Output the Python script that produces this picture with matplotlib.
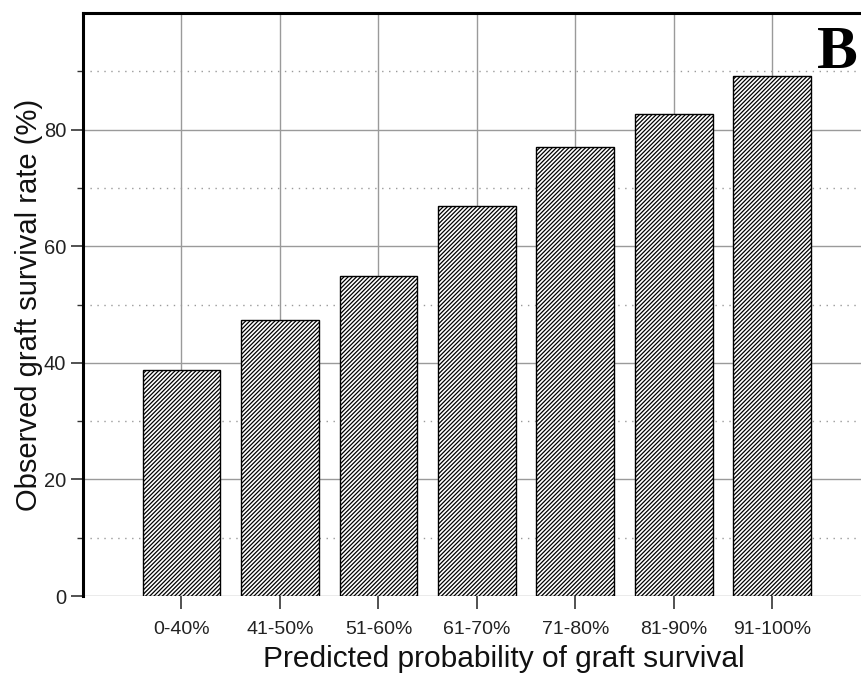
import matplotlib
matplotlib.use("Agg")
import matplotlib.pyplot as plt
from matplotlib.ticker import FixedLocator

categories = ["0-40%", "41-50%", "51-60%", "61-70%", "71-80%", "81-90%", "91-100%"]
observed_rate = [38.8, 47.3, 54.9, 66.9, 77.0, 82.7, 89.2]
major_yticks = [0, 20, 40, 60, 80]
minor_yticks = [10, 30, 50, 70, 90]

plt.rcParams["font.family"] = ["Liberation Sans", "DejaVu Sans"]
plt.rcParams["hatch.linewidth"] = 0.9
plt.rcParams["hatch.color"] = "#1a1a1a"

fig = plt.figure(figsize=(8.61, 6.75), dpi=100)
# plot region runs past the right edge of the canvas
ax = fig.add_axes([83 / 861, 79 / 675, (925 - 83) / 861, (596 - 13) / 675])

positions = list(range(1, len(categories) + 1))

# grid first so bars sit on top
ax.set_axisbelow(True)
ax.yaxis.set_major_locator(FixedLocator(major_yticks))
ax.yaxis.set_minor_locator(FixedLocator(minor_yticks))
ax.grid(which="major", axis="both", color="#9a9a9a", linewidth=1.0, linestyle="-")
ax.grid(which="minor", axis="y", color="#9a9a9a", linewidth=1.0, linestyle=(0, (1, 4)))

ax.bar(positions, observed_rate, width=0.79, color="white", edgecolor="black",
       linewidth=1.0, hatch="////////", zorder=3)

ax.set_xlim(0, 8.55)
ax.set_ylim(0, 100)
ax.set_xticks(positions)
ax.set_xticklabels(categories)

ax.tick_params(axis="x", which="major", length=9, width=1.2, color="#333333",
               labelsize=14, labelcolor="#222222", pad=9)
ax.tick_params(axis="y", which="major", length=9, width=1.2, color="#333333",
               labelsize=14.5, labelcolor="#222222", pad=3)
ax.tick_params(axis="y", which="minor", length=4, width=1.0, color="#333333")

for side in ("bottom", "right"):
    ax.spines[side].set_visible(False)
for side in ("left", "top"):
    ax.spines[side].set_linewidth(2.2)
    ax.spines[side].set_color("black")

ax.set_xlabel("Predicted probability of graft survival", fontsize=21.5, color="#111111", labelpad=5)
ax.set_ylabel("Observed graft survival rate (%)", fontsize=21, color="#111111", labelpad=1)

# panel letter, placed in figure coordinates near the top-right corner
fig.text(0.9965, 0.922, "B", ha="right", va="center",
         fontsize=44, fontweight="bold", family="Liberation Serif", color="black")

fig.savefig("out.png", dpi=100)
